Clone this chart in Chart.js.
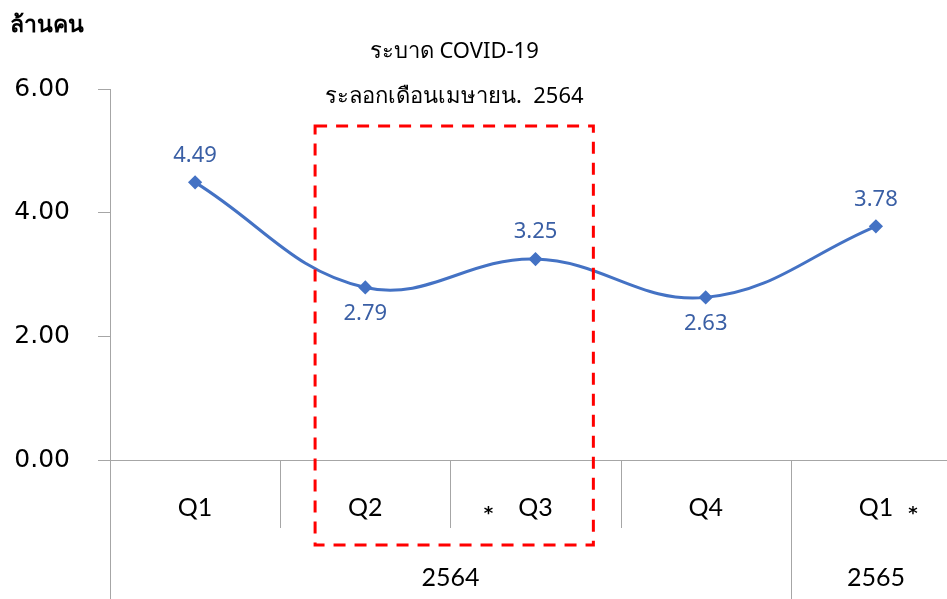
<!DOCTYPE html>
<html>
<head>
<meta charset="utf-8">
<script src="https://cdn.jsdelivr.net/npm/chart.js@4.4.0/dist/chart.umd.min.js"></script>
<style>
  html, body { margin: 0; padding: 0; overflow: hidden; background: #fff; }
  canvas { display: block; }
</style>
</head>
<body>
<canvas id="lineCanvas" width="969" height="599"></canvas>
<script>
// data
var quarters = ['Q1', 'Q2', 'Q3', 'Q4', 'Q1'];
var quarterNotes = ['', '', '*', '', '*'];
var yearLabels = ['2564', '2565'];
var yearSpans = [4, 1];
var people = [4.49, 2.79, 3.25, 2.63, 3.78];
var labelSide = ['top', 'bottom', 'top', 'bottom', 'top'];
var yTicks = [0, 2, 4, 6];
var unitTitle = 'ล้านคน';
var noteLines = ['ระบาด COVID-19', 'ระลอกเดือนเมษายน.  2564'];

var axisGray = '#A6A6A6';
var lineBlue = '#4472C4';
var labelBlue = '#3A5FA5';

var decor = {
  id: 'decor',
  afterDraw: function (chart) {
    var ctx = chart.ctx;
    var x = chart.scales.x, y = chart.scales.y;
    var cat = x.getPixelForValue(1) - x.getPixelForValue(0);
    var y0 = y.getPixelForValue(0);
    var bottom = chart.height;
    ctx.save();

    // category separators
    ctx.strokeStyle = axisGray;
    ctx.lineWidth = 1;
    var yearEdges = [0];
    var acc = 0;
    yearSpans.forEach(function (s) { acc += s; yearEdges.push(acc); });
    for (var i = 0; i <= quarters.length; i++) {
      var bx = Math.round(x.getPixelForValue(0) - cat / 2 + i * cat) + 0.5;
      var full = yearEdges.indexOf(i) >= 0;
      ctx.beginPath();
      ctx.moveTo(bx, y0);
      ctx.lineTo(bx, full ? bottom : y0 + 68);
      ctx.stroke();
    }

    // quarter labels
    ctx.fillStyle = '#000';
    ctx.textAlign = 'center';
    ctx.textBaseline = 'middle';
    ctx.font = '25px Lato, sans-serif';
    quarters.forEach(function (q, i) {
      ctx.fillText(q, x.getPixelForValue(i), y0 + 48);
    });
    ctx.font = 'bold 18px "DejaVu Sans", sans-serif';
    var noteShift = [0, 0, -47, 0, 37];
    quarterNotes.forEach(function (n, i) {
      if (n) ctx.fillText(n, x.getPixelForValue(i) + noteShift[i], y0 + 54);
    });

    // year labels
    ctx.font = '25px Lato, sans-serif';
    var start = 0;
    yearLabels.forEach(function (lab, k) {
      var mid = (x.getPixelForValue(start) + x.getPixelForValue(start + yearSpans[k] - 1)) / 2;
      ctx.fillText(lab, mid, y0 + 118);
      start += yearSpans[k];
    });

    // value labels
    ctx.fillStyle = labelBlue;
    ctx.font = '22px "Noto Sans", sans-serif';
    var meta = chart.getDatasetMeta(0);
    meta.data.forEach(function (pt, i) {
      var dy = labelSide[i] === 'top' ? -27 : 26;
      ctx.fillText(people[i].toFixed(2), pt.x, pt.y + dy);
    });

    // dashed box around the COVID wave
    var left = x.getPixelForValue(1) - 0.295 * cat;
    var right = x.getPixelForValue(2) + 0.34 * cat;
    var top = y.getPixelForValue(5.4);
    var boxBottom = y0 + 85;
    ctx.strokeStyle = '#FF0000';
    ctx.lineWidth = 3;
    ctx.setLineDash([12, 9]);
    ctx.strokeRect(left, top, right - left, boxBottom - top);
    ctx.setLineDash([]);

    // note above box
    ctx.fillStyle = '#000';
    ctx.font = '22px "Noto Sans", "DejaVu Sans", sans-serif';
    ctx.fillText(noteLines[0], (left + right) / 2, top - 74);
    ctx.fillText(noteLines[1], (left + right) / 2, top - 29);

    // unit title
    ctx.textAlign = 'left';
    ctx.font = 'bold 23px "Noto Sans", "DejaVu Sans", sans-serif';
    ctx.fillText(unitTitle, 10, 25);
    ctx.restore();
  }
};

var lineChart = new Chart(document.getElementById('lineCanvas'), {
  type: 'line',
  data: {
    labels: quarters,
    datasets: [{
      data: people,
      borderColor: lineBlue,
      backgroundColor: lineBlue,
      borderWidth: 3,
      tension: 0.4,
      pointStyle: 'rectRot',
      pointRadius: 5,
      pointHoverRadius: 5
    }]
  },
  options: {
    responsive: false,
    animation: false,
    devicePixelRatio: 1,
    layout: { padding: { top: 89, right: 0, left: 0, bottom: 0 } },
    plugins: { legend: { display: false }, tooltip: { enabled: false } },
    scales: {
      x: {
        offset: true,
        grid: { display: false },
        border: { display: true, color: axisGray, width: 1 },
        ticks: { display: false },
        afterFit: function (s) { s.height = 139; }
      },
      y: {
        min: 0,
        max: 6,
        afterBuildTicks: function (s) { s.ticks = yTicks.map(function (v) { return { value: v }; }); },
        grid: { drawOnChartArea: false, drawTicks: true, tickLength: 12, color: axisGray },
        border: { display: true, color: axisGray, width: 1 },
        ticks: {
          padding: 28,
          color: '#000',
          font: { family: 'DejaVu Sans', size: 25 },
          callback: function (v) { return v.toFixed(2); }
        },
        afterFit: function (s) { s.width = 110; }
      }
    }
  },
  plugins: [decor]
});
</script>
</body>
</html>
